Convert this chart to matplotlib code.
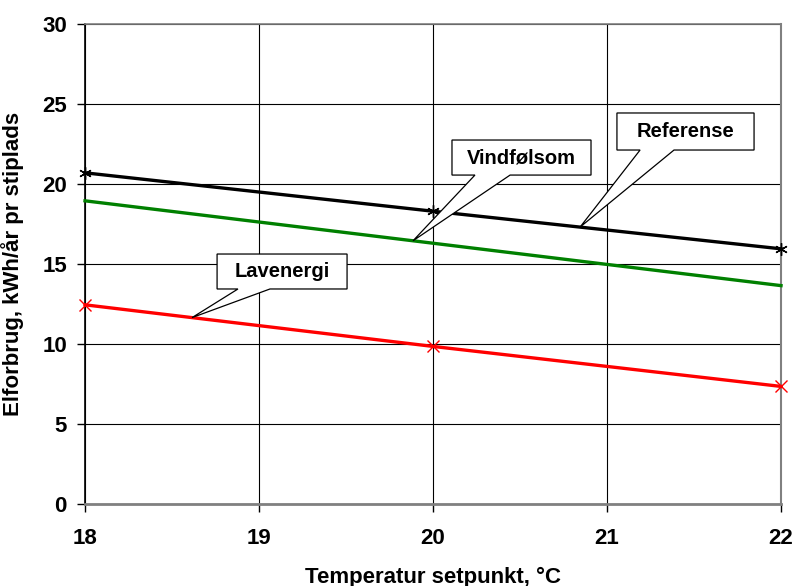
import numpy as np
import matplotlib.pyplot as plt
from matplotlib.patches import Polygon

plt.rcParams['font.family'] = ['Liberation Sans', 'DejaVu Sans']
plt.rcParams['font.weight'] = 'bold'

# Setpoint temperatures and electricity use per stall
temps = [18, 20, 22]
referense = [20.7, 18.3, 15.95]
vindfoelsom = [18.95, 16.3, 13.65]
lavenergi = [12.45, 9.85, 7.35]

x_ticks = [18, 19, 20, 21, 22]
y_ticks = [0, 5, 10, 15, 20, 25, 30]

fig = plt.figure(figsize=(7.93, 5.86), dpi=100)
ax = fig.add_axes([0.1072, 0.1399, 0.8777, 0.8191])

ax.plot(temps, referense, color='black', lw=2.4, marker=(6, 2, 0), ms=9,
        mew=1.0, clip_on=False, zorder=4)
ax.plot(temps, vindfoelsom, color='#008000', lw=2.4, clip_on=False, zorder=4)
ax.plot(temps, lavenergi, color='#ff0000', lw=2.4, marker='x', ms=8,
        mew=1.0, clip_on=False, zorder=4)

ax.set_xlim(18, 22)
ax.set_ylim(0, 30)
ax.set_xticks(x_ticks)
ax.set_yticks(y_ticks)
ax.grid(True, color='black', lw=0.8)
ax.set_axisbelow(True)

for side in ['top', 'right', 'bottom']:
    ax.spines[side].set_color('#808080')
ax.spines['bottom'].set_linewidth(2)
ax.spines['top'].set_linewidth(1.2)
ax.spines['right'].set_linewidth(1.5)
ax.spines['left'].set_linewidth(1.2)

ax.tick_params(axis='both', direction='out', length=6, width=1, labelsize=16)
ax.tick_params(axis='y', pad=7)
ax.tick_params(axis='x', pad=11)

ax.set_xlabel('Temperatur setpunkt, °C', fontsize=16, fontweight='bold')
ax.set_ylabel('Elforbrug, kWh/år pr stiplads', fontsize=16,
              fontweight='bold')
ax.xaxis.set_label_coords(0.5, -0.13)
ax.yaxis.set_label_coords(-0.088, 0.5)


def callout(text, series, box, base, tip_x):
    # box = (x0, x1, y_bottom, y_top), base = wedge start/end on bottom edge
    x0, x1, yb, yt = box
    tip_y = np.interp(tip_x, temps, series)
    pts = [(x0, yb), (base[0], yb), (tip_x, tip_y), (base[1], yb),
           (x1, yb), (x1, yt), (x0, yt)]
    ax.add_patch(Polygon(pts, closed=True, facecolor='white',
                         edgecolor='black', lw=0.9, zorder=6))
    ax.text((x0 + x1) / 2, (yb + yt) / 2, text, ha='center', va='center',
            fontsize=14.5, fontweight='bold', zorder=7)


callout('Referense', referense, (21.057, 21.845, 22.125, 24.44),
        (21.19, 21.385), 20.845)
callout('Vindfølsom', vindfoelsom, (20.109, 20.908, 20.56, 22.75),
        (20.241, 20.443), 19.885)
callout('Lavenergi', lavenergi, (18.759, 19.506, 13.44, 15.625),
        (18.879, 19.063), 18.615)

fig.savefig('out.png', dpi=100)
